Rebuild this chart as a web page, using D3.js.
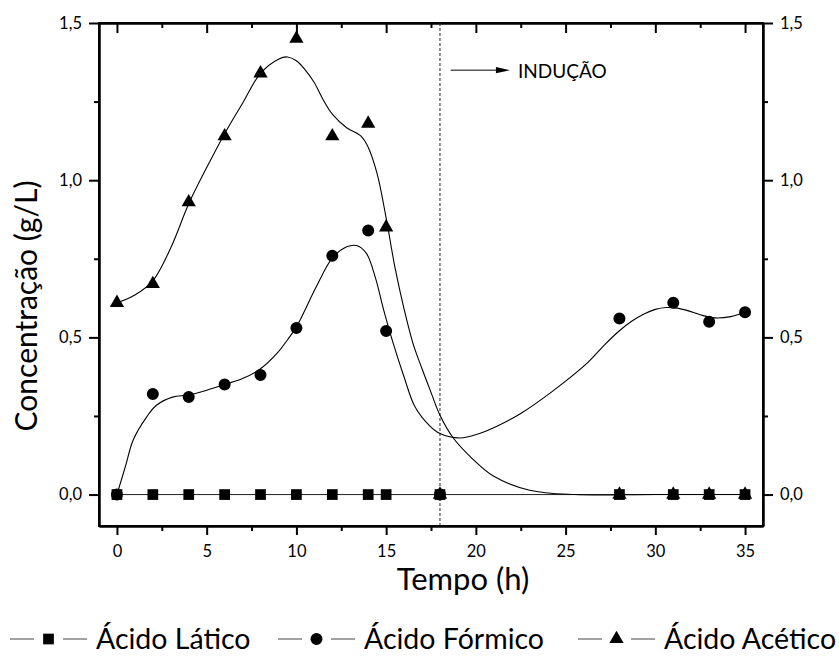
<!DOCTYPE html>
<html>
<head>
<meta charset="utf-8">
<script src="https://cdn.jsdelivr.net/npm/d3@7/dist/d3.min.js"></script>
<style>
  html, body { margin: 0; padding: 0; background: #fff; }
  svg { display: block; font-family: Lato, "Open Sans", sans-serif; }
</style>
</head>
<body>
<svg id="chart" width="839" height="656"></svg>
<script>
// ---- data ----
const times   = [0, 2, 4, 6, 8, 10, 12, 14, 15, 18, 28, 31, 33, 35];
const latico  = [0, 0, 0, 0, 0, 0, 0, 0, 0, 0, 0, 0, 0, 0];
const formico = [0, 0.32, 0.31, 0.35, 0.38, 0.53, 0.76, 0.84, 0.52, 0, 0.56, 0.61, 0.55, 0.58];
const acetico = [0.61, 0.67, 0.93, 1.14, 1.34, 1.45, 1.14, 1.18, 0.85, 0, 0, 0, 0, 0];

// fitted (smoothed) curves
const aceticFitT = [0, 1, 2, 3, 4, 5, 6, 7, 8, 9, 9.5, 10, 10.5, 11, 11.5, 12, 12.8, 13.6, 14, 14.5, 15, 15.5, 16, 16.5, 17, 17.5, 18, 18.7, 19.7, 21, 23, 25.5, 30, 35];
const aceticFitC = [0.61, 0.635, 0.68, 0.785, 0.925, 1.04, 1.148, 1.245, 1.34, 1.385, 1.392, 1.38, 1.35, 1.31, 1.255, 1.21, 1.167, 1.14, 1.105, 1.02, 0.88, 0.72, 0.59, 0.48, 0.4, 0.325, 0.252, 0.183, 0.12, 0.058, 0.014, 0, 0, 0];
const formicFitT = [0, 0.5, 0.9, 1.66, 2.2, 3.1, 4, 5, 6, 7, 8, 8.9, 9.6, 10, 11.1, 12, 12.8, 13.35, 13.9, 14.4, 14.85, 15.4, 16, 16.6, 17.4, 18, 19.1, 20.2, 21.2, 22.5, 24.3, 26.2, 27.2, 28, 28.7, 29.4, 30, 30.6, 31.2, 31.8, 32.5, 33.3, 34.2, 35];
const formicFitC = [0, 0.095, 0.173, 0.247, 0.284, 0.31, 0.317, 0.332, 0.35, 0.369, 0.4, 0.448, 0.5, 0.533, 0.66, 0.752, 0.788, 0.792, 0.767, 0.69, 0.59, 0.48, 0.374, 0.28, 0.22, 0.194, 0.18, 0.194, 0.218, 0.258, 0.33, 0.418, 0.478, 0.521, 0.552, 0.575, 0.589, 0.595, 0.593, 0.585, 0.572, 0.562, 0.566, 0.58];

const seriesNames = ["Ácido Lático", "Ácido Fórmico", "Ácido Acético"];
const xTicks = [0, 5, 10, 15, 20, 25, 30, 35];
const xMinor = [2.5, 7.5, 12.5, 17.5, 22.5, 27.5, 32.5];
const yTicks = [0, 0.5, 1.0, 1.5];
const yMinor = [0.25, 0.75, 1.25];
const inductionTime = 18;
const xTitle = "Tempo (h)";
const yTitle = "Concentração (g/L)";
const inductionLabel = "INDUÇÃO";

// ---- layout ----
const L = 99, R = 763, T = 23, B = 526;
const svg = d3.select("#chart");
const x = d3.scaleLinear().domain([-1, 36]).range([L, R]);
const y = d3.scaleLinear().domain([-0.1, 1.5]).range([B, T]);
const fmt = v => d3.format(".1f")(v).replace(".", ",");

const TICKFONT = 16.5;

function styleAxis(g) {
  g.selectAll("path.domain").attr("stroke", "#000").attr("stroke-width", 2);
  g.selectAll(".tick line").attr("stroke", "#000").attr("stroke-width", 2);
  g.selectAll(".tick text").attr("fill", "#000").style("font-size", TICKFONT + "px").style("font-family", "Lato, 'Open Sans', sans-serif");
}

// bottom
svg.append("g").attr("transform", `translate(0,${B})`)
  .call(d3.axisBottom(x).tickValues(xTicks).tickSize(9).tickSizeOuter(0).tickPadding(10).tickFormat(d3.format("d")))
  .call(styleAxis);
svg.append("g").attr("transform", `translate(0,${B})`)
  .call(d3.axisBottom(x).tickValues(xMinor).tickSize(5).tickSizeOuter(0).tickFormat(""))
  .call(styleAxis);
// top (ticks inward)
svg.append("g").attr("transform", `translate(0,${T})`)
  .call(d3.axisTop(x).tickValues(xTicks).tickSize(-10).tickSizeOuter(0).tickFormat(""))
  .call(styleAxis);
svg.append("g").attr("transform", `translate(0,${T})`)
  .call(d3.axisTop(x).tickValues(xMinor).tickSize(-5).tickSizeOuter(0).tickFormat(""))
  .call(styleAxis);
// left
svg.append("g").attr("transform", `translate(${L},0)`)
  .call(d3.axisLeft(y).tickValues(yTicks).tickSize(10).tickSizeOuter(0).tickPadding(7).tickFormat(fmt))
  .call(styleAxis);
svg.append("g").attr("transform", `translate(${L},0)`)
  .call(d3.axisLeft(y).tickValues(yMinor).tickSize(5).tickSizeOuter(0).tickFormat(""))
  .call(styleAxis);
// right
svg.append("g").attr("transform", `translate(${R},0)`)
  .call(d3.axisRight(y).tickValues(yTicks).tickSize(10).tickSizeOuter(0).tickPadding(7).tickFormat(fmt))
  .call(styleAxis);
svg.append("g").attr("transform", `translate(${R},0)`)
  .call(d3.axisRight(y).tickValues(yMinor).tickSize(5).tickSizeOuter(0).tickFormat(""))
  .call(styleAxis);

// frame corners closed
svg.append("rect").attr("x", L).attr("y", T).attr("width", R - L).attr("height", B - T)
  .attr("fill", "none").attr("stroke", "#000").attr("stroke-width", 2);

// induction dashed line
svg.append("line")
  .attr("x1", x(inductionTime)).attr("x2", x(inductionTime))
  .attr("y1", T).attr("y2", B)
  .attr("stroke", "#222").attr("stroke-width", 1).attr("stroke-dasharray", "3,2");

// fitted curves
const lineGen = d3.line().x(d => x(d[0])).y(d => y(d[1])).curve(d3.curveCatmullRom.alpha(0.5));
const straight = d3.line().x(d => x(d[0])).y(d => y(d[1]));
svg.append("path").datum(times.map((t, i) => [t, latico[i]]))
  .attr("d", straight).attr("fill", "none").attr("stroke", "#222").attr("stroke-width", 1);
svg.append("path").datum(formicFitT.map((t, i) => [t, formicFitC[i]]))
  .attr("d", lineGen).attr("fill", "none").attr("stroke", "#000").attr("stroke-width", 1.1);
svg.append("path").datum(aceticFitT.map((t, i) => [t, aceticFitC[i]]))
  .attr("d", lineGen).attr("fill", "none").attr("stroke", "#000").attr("stroke-width", 1.1);

// markers
const symSquare = d3.symbol().type(d3.symbolSquare).size(115);
const symCircle = d3.symbol().type(d3.symbolCircle).size(113);
const symTri = d3.symbol().type(d3.symbolTriangle).size(88);
const seriesDefs = [
  { vals: latico, sym: symSquare },
  { vals: formico, sym: symCircle },
  { vals: acetico, sym: symTri }
];
seriesDefs.forEach(s => {
  svg.append("g").selectAll("path").data(times.map((t, i) => [t, s.vals[i]])).join("path")
    .attr("transform", d => `translate(${x(d[0])},${y(d[1])})`)
    .attr("d", s.sym()).attr("fill", "#000");
});

// induction annotation
const ay = y(1.35);
const ax1 = x(18.6), ax2 = x(21.9);
svg.append("line").attr("x1", ax1).attr("x2", ax2 - 12).attr("y1", ay).attr("y2", ay)
  .attr("stroke", "#000").attr("stroke-width", 1);
svg.append("path").attr("d", `M${ax2},${ay} L${ax2 - 14},${ay - 3.2} L${ax2 - 14},${ay + 3.2} Z`).attr("fill", "#000");
svg.append("text").attr("x", x(22.35)).attr("y", y(1.325))
  .style("font-size", "19px").attr("fill", "#000").text(inductionLabel);

// axis titles
svg.append("text").attr("x", 463).attr("y", 590)
  .attr("text-anchor", "middle").style("font-size", "31px").text(xTitle);
svg.append("text").attr("transform", `translate(37,${(180 + 432) / 2}) rotate(-90)`)
  .attr("text-anchor", "middle").style("font-size", "30px").text(yTitle);

// legend
const legendX = [10, 278, 578];
const legendY = 639;
const legendSyms = [symSquare, symCircle, symTri];
seriesNames.forEach((name, i) => {
  const g = svg.append("g").attr("transform", `translate(${legendX[i]},${legendY})`);
  g.append("line").attr("x1", 0).attr("x2", 24).attr("y1", 0).attr("y2", 0).attr("stroke", "#444").attr("stroke-width", 1);
  g.append("line").attr("x1", 53).attr("x2", 77).attr("y1", 0).attr("y2", 0).attr("stroke", "#444").attr("stroke-width", 1);
  g.append("path").attr("transform", "translate(38.5,0)").attr("d", legendSyms[i]()).attr("fill", "#000");
  g.append("text").attr("x", 86).attr("y", 10).style("font-size", "28.5px").attr("fill", "#000").text(name);
});
</script>
</body>
</html>
